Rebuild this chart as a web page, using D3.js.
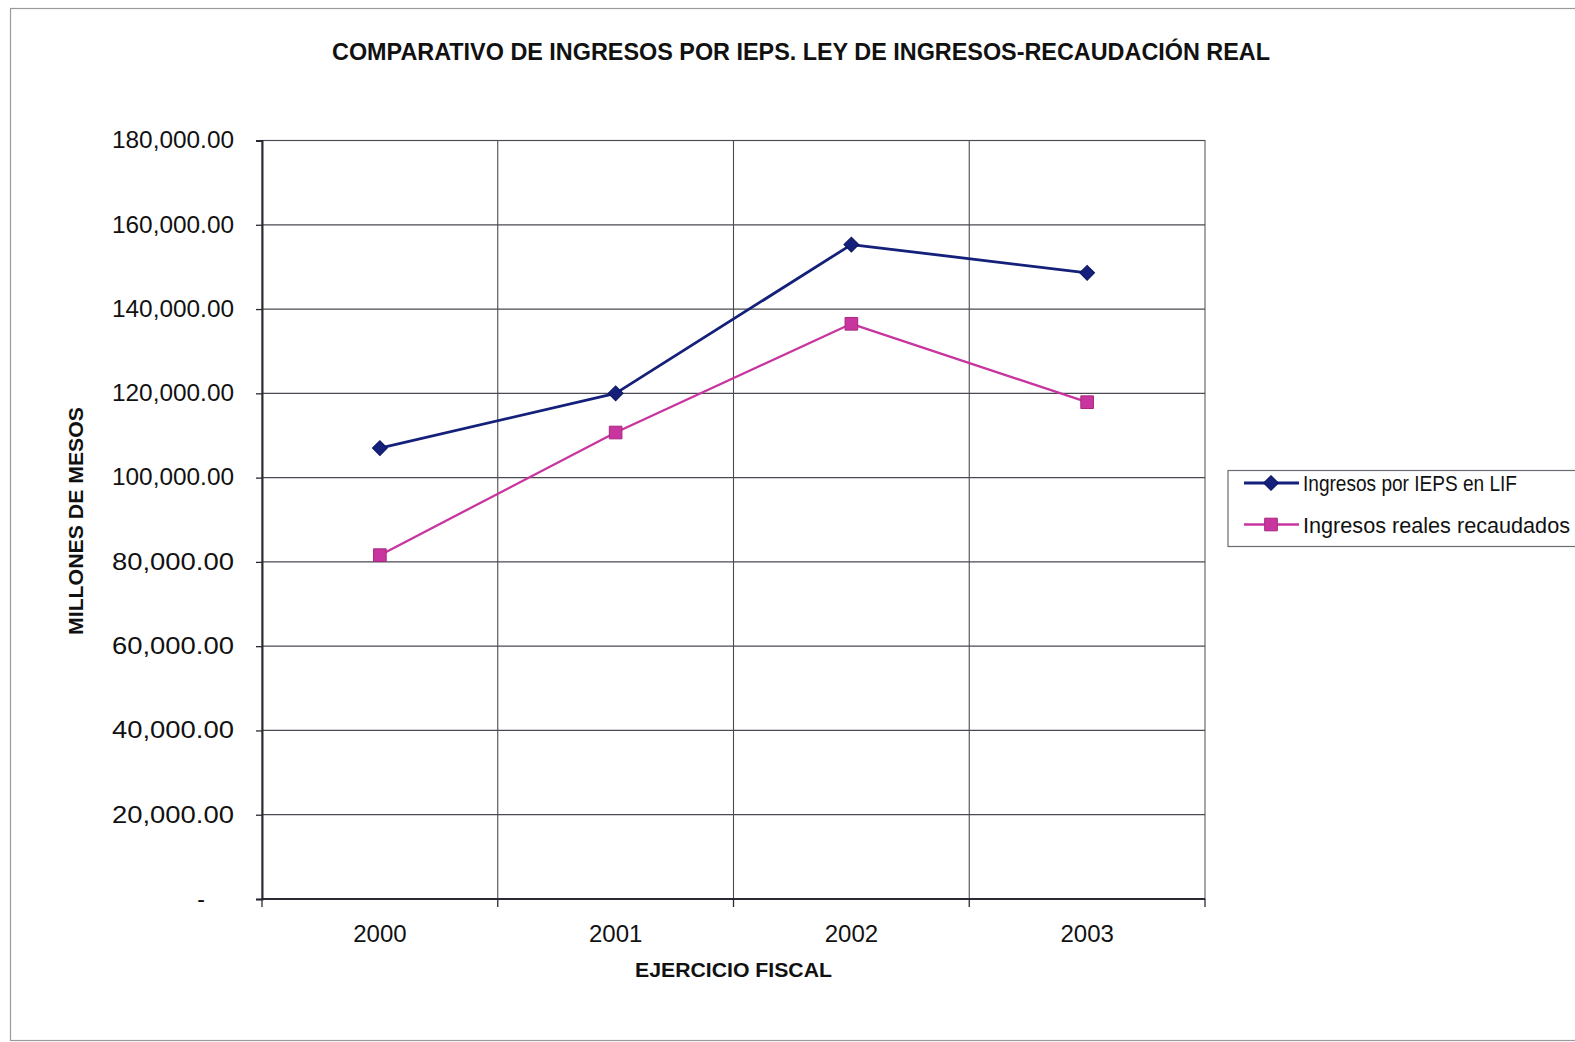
<!DOCTYPE html>
<html>
<head>
<meta charset="utf-8">
<script src="https://cdn.jsdelivr.net/npm/d3@7"></script>
<style>
  html, body { margin: 0; padding: 0; background: #ffffff; }
  svg { display: block; }
  text { font-family: "Liberation Sans", Arial, sans-serif; fill: #111; }
</style>
</head>
<body>
<svg id="chart" width="1575" height="1042"></svg>
<script>
// Fiscal years on the category axis
const years = ["2000", "2001", "2002", "2003"];
// IEPS revenue budgeted in the Ley de Ingresos (millions)
const lifValues = [107000, 120000, 155300, 148600];
// IEPS revenue actually collected (millions)
const recaudadoValues = [81600, 110700, 136500, 117900];
// Value axis ticks
const yTicks = [0, 20000, 40000, 60000, 80000, 100000, 120000, 140000, 160000, 180000];

const seriesNames = ["Ingresos por IEPS en LIF", "Ingresos reales recaudados"];
const titleText = "COMPARATIVO DE INGRESOS POR IEPS. LEY DE INGRESOS-RECAUDACIÓN REAL";
const xTitle = "EJERCICIO FISCAL";
const yTitle = "MILLONES DE MESOS";

const navy = "#14207a";
const magenta = "#c8359f";

const svg = d3.select("#chart");

const plot = { left: 262, right: 1205, top: 140.5, bottom: 899 };

const x = d3.scaleBand().domain(years).range([plot.left, plot.right]);
const y = d3.scaleLinear().domain([0, 180000]).range([plot.bottom, plot.top]);

// outer chart frame
svg.append("rect")
  .attr("x", 10.5).attr("y", 8.5)
  .attr("width", 1600).attr("height", 1032)
  .attr("fill", "none").attr("stroke", "#9a9a9a").attr("stroke-width", 1.2);

// title
svg.append("text")
  .attr("x", 801).attr("y", 60)
  .attr("text-anchor", "middle")
  .attr("font-size", 24).attr("font-weight", "bold")
  .attr("textLength", 938).attr("lengthAdjust", "spacingAndGlyphs")
  .text(titleText);

// plot area border
svg.append("rect")
  .attr("x", plot.left).attr("y", plot.top)
  .attr("width", plot.right - plot.left).attr("height", plot.bottom - plot.top)
  .attr("fill", "#fff").attr("stroke", "#6a6a72").attr("stroke-width", 1.2);

// horizontal gridlines
svg.append("g").selectAll("line").data(yTicks.filter(d => d > 0)).join("line")
  .attr("x1", plot.left).attr("x2", plot.right)
  .attr("y1", d => y(d)).attr("y2", d => y(d))
  .attr("stroke", "#4a4a52").attr("stroke-width", 1.2);

// vertical gridlines at category boundaries
const boundaries = years.map(d => x(d)).concat([x(years[years.length - 1]) + x.step()]);
svg.append("g").selectAll("line").data(boundaries.slice(1, -1)).join("line")
  .attr("x1", d => d).attr("x2", d => d)
  .attr("y1", plot.top).attr("y2", plot.bottom)
  .attr("stroke", "#4a4a52").attr("stroke-width", 1.1);

// y axis
const fmt = d3.format(",.2f");
const yAxis = svg.append("g")
  .attr("transform", `translate(${plot.left},0)`)
  .call(d3.axisLeft(y).tickValues(yTicks).tickSize(6).tickPadding(22)
    .tickFormat(d => d === 0 ? "-" : fmt(d)));
yAxis.select(".domain").attr("stroke", "#2a2a35").attr("stroke-width", 2);
yAxis.selectAll(".tick line").attr("stroke", "#2a2a35").attr("stroke-width", 1.3);
yAxis.selectAll(".tick text")
  .attr("font-size", 23).attr("fill", "#1a1a1a")
  .attr("font-family", "'Liberation Sans', Arial, sans-serif")
  .each(function (d) {
    const t = d3.select(this);
    if (d === 0) t.attr("dx", -29);
    else t.attr("textLength", 122).attr("lengthAdjust", "spacingAndGlyphs");
  });

// x axis
const xAxis = svg.append("g")
  .attr("transform", `translate(0,${plot.bottom})`)
  .call(d3.axisBottom(x).tickSize(0).tickPadding(26));
xAxis.select(".domain").remove();
xAxis.selectAll(".tick text")
  .attr("font-size", 24).attr("fill", "#1a1a1a")
  .attr("font-family", "'Liberation Sans', Arial, sans-serif");
svg.append("line")
  .attr("x1", plot.left - 1).attr("x2", plot.right)
  .attr("y1", plot.bottom).attr("y2", plot.bottom)
  .attr("stroke", "#2a2a35").attr("stroke-width", 2.2);
svg.append("g").selectAll("line").data(boundaries).join("line")
  .attr("x1", d => d).attr("x2", d => d)
  .attr("y1", plot.bottom).attr("y2", plot.bottom + 8)
  .attr("stroke", "#2a2a35").attr("stroke-width", 1.3);

// axis titles
svg.append("text")
  .attr("x", (plot.left + plot.right) / 2).attr("y", 977)
  .attr("text-anchor", "middle")
  .attr("font-size", 21).attr("font-weight", "bold")
  .attr("textLength", 197).attr("lengthAdjust", "spacingAndGlyphs")
  .text(xTitle);
svg.append("text")
  .attr("transform", "translate(83,521) rotate(-90)")
  .attr("text-anchor", "middle")
  .attr("font-size", 21).attr("font-weight", "bold")
  .attr("textLength", 228).attr("lengthAdjust", "spacingAndGlyphs")
  .text(yTitle);

// series
const cx = d => x(d) + x.bandwidth() / 2;
const series = [
  { name: seriesNames[0], values: lifValues, color: navy, width: 2.8, marker: "diamond" },
  { name: seriesNames[1], values: recaudadoValues, color: magenta, width: 2.3, marker: "square" }
];
const lineGen = d3.line().x(d => cx(d.year)).y(d => y(d.value));
const diamond = d3.symbol().type(d3.symbolSquare).size(110);
const square = d3.symbol().type(d3.symbolSquare).size(160);

function drawMarker(sel, s) {
  if (s.marker === "diamond") {
    sel.append("path").attr("d", diamond())
      .attr("transform", "rotate(45)")
      .attr("fill", s.color).attr("stroke", "#0c1560").attr("stroke-width", 1);
  } else {
    sel.append("path").attr("d", square())
      .attr("fill", magenta).attr("stroke", "#a8287f").attr("stroke-width", 1);
  }
}

series.forEach(s => {
  const pts = years.map((yr, i) => ({ year: yr, value: s.values[i] }));
  svg.append("path").datum(pts)
    .attr("d", lineGen)
    .attr("fill", "none").attr("stroke", s.color).attr("stroke-width", s.width)
    .attr("stroke-linejoin", "round");
  svg.append("g").selectAll("g").data(pts).join("g")
    .attr("transform", d => `translate(${cx(d.year)},${y(d.value)})`)
    .each(function () { drawMarker(d3.select(this), s); });
});

// legend
const legend = svg.append("g");
legend.append("rect")
  .attr("x", 1228).attr("y", 470.5).attr("width", 400).attr("height", 76)
  .attr("fill", "#fff").attr("stroke", "#6a6a72").attr("stroke-width", 1.2);
series.forEach((s, i) => {
  const ly = 483 + i * 41.5;
  const g = legend.append("g");
  g.append("line")
    .attr("x1", 1244).attr("x2", 1299).attr("y1", ly).attr("y2", ly)
    .attr("stroke", s.color).attr("stroke-width", s.width);
  drawMarker(g.append("g").attr("transform", `translate(1271,${ly})`), s);
  g.append("text")
    .attr("x", 1303).attr("y", ly + 8)
    .attr("font-size", 22)
    .attr("textLength", i === 0 ? 214 : 267).attr("lengthAdjust", "spacingAndGlyphs")
    .text(s.name);
});
</script>
</body>
</html>
